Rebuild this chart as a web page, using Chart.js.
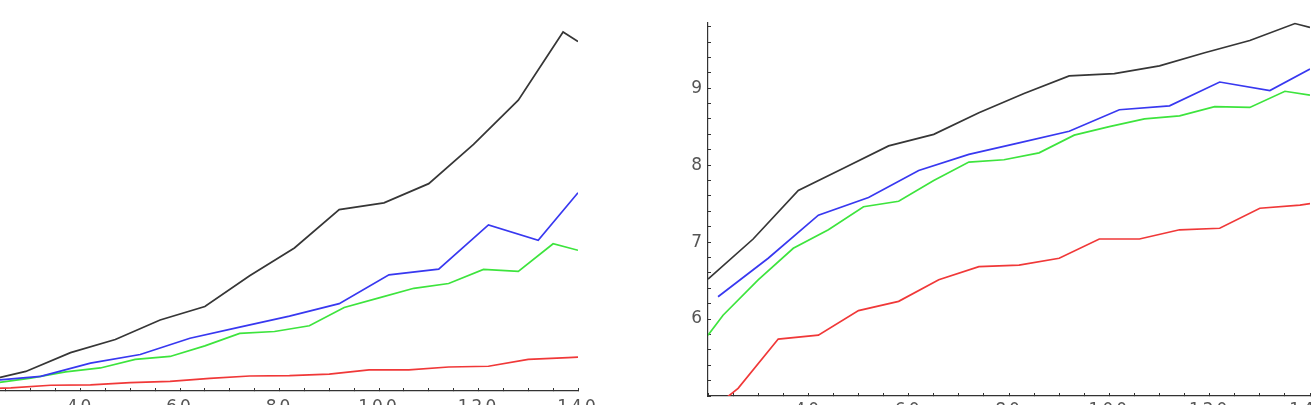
<!DOCTYPE html>
<html>
<head>
<meta charset="utf-8">
<title>Two line panels</title>
<script src="https://cdn.jsdelivr.net/npm/chart.js@4.4.1/dist/chart.umd.min.js"></script>
<style>
    html, body { margin: 0; padding: 0; background: #fff; overflow: hidden; }
    body { width: 1311px; height: 405px; position: relative; }
    .panel { position: absolute; }
</style>
</head>
<body>
<div class="panel" style="left:-19px; top:17px; width:637px; height:404px;"><canvas id="leftChart"></canvas></div>
<div class="panel" style="left:658px; top:22px; width:682px; height:404px;"><canvas id="rightChart"></canvas></div>

<script>
// Each curve was sampled on its own x grid
const blackX = [20, 29, 38, 47, 56, 65, 74, 83, 92, 101, 110, 119, 128, 137, 140];
const blueX  = [22, 32, 42, 52, 62, 72, 82, 92, 102, 112, 122, 132, 140];
const greenX = [20, 23, 30, 37, 44, 51, 58, 65, 72, 79, 86, 93, 100, 107, 114, 121, 128, 135, 140];
const redX   = [18, 26, 34, 42, 50, 58, 66, 74, 82, 90, 98, 106, 114, 122, 130, 138, 140];

// Left panel values (y axis is off screen)
const blackLeft = [470, 1020, 2000, 2680, 3700, 4400, 6000, 7450, 9450, 9800, 10800, 12850, 15150, 18700, 18200];
const blueLeft  = [540, 760, 1450, 1900, 2750, 3330, 3900, 4550, 6050, 6350, 8650, 7850, 10330];
const greenLeft = [330, 420, 670, 1000, 1200, 1650, 1800, 2350, 3000, 3100, 3400, 4350, 4850, 5350, 5600, 6330, 6230, 7670, 7330];
const redLeft   = [100, 160, 300, 320, 440, 500, 660, 780, 800, 880, 1100, 1100, 1250, 1290, 1650, 1740, 1760];

// Right panel values
const blackRight = [6.52, 7.04, 7.67, 7.96, 8.25, 8.40, 8.68, 8.93, 9.16, 9.19, 9.29, 9.46, 9.62, 9.84, 9.79];
const blueRight  = [6.29, 6.79, 7.35, 7.58, 7.93, 8.14, 8.29, 8.44, 8.72, 8.77, 9.08, 8.97, 9.25];
const greenRight = [5.79, 6.05, 6.51, 6.92, 7.16, 7.46, 7.53, 7.80, 8.04, 8.07, 8.16, 8.39, 8.50, 8.60, 8.64, 8.76, 8.75, 8.96, 8.91];
const redRight   = [4.68, 5.10, 5.74, 5.79, 6.11, 6.23, 6.51, 6.68, 6.70, 6.79, 7.04, 7.04, 7.16, 7.18, 7.44, 7.48, 7.50];

// Axis ticks
const xMin = 20, xMax = 140, xStep = 5, xLabelStep = 20;
const rightYMin = 5, rightYMax = 9.86, rightYStep = 0.2;
const leftYMin = 0, leftYMax = 19480;

const colors = { black: '#363636', blue: '#3838f0', green: '#3de43d', red: '#f03838' };
const axisColor = '#333';
const labelFont = { family: 'DejaVu Sans', size: 17 };
const labelColor = '#555';

// the tick labels in the original are drawn with loose tracking
const trackingPlugin = {
    id: 'tracking',
    beforeDraw(chart) {
        chart.ctx.letterSpacing = '3px';
    }
};

function points(xs, ys) {
    return xs.map((x, i) => ({ x: x, y: ys[i] }));
}

function series(xs, ys, color) {
    return {
        data: points(xs, ys),
        borderColor: color,
        borderWidth: 1.7,
        pointRadius: 0,
        tension: 0,
        fill: false
    };
}

function xScale(pad) {
    return {
        type: 'linear',
        min: xMin,
        max: xMax,
        border: { color: axisColor, width: 1.2 },
        grid: { drawOnChartArea: false, drawTicks: true, tickLength: -3, tickColor: axisColor },
        ticks: {
            stepSize: xStep,
            autoSkip: false,
            maxRotation: 0,
            padding: pad,
            color: labelColor,
            font: labelFont,
            callback: v => (v % xLabelStep === 0 && v > xMin) ? String(v) : ''
        },
        afterFit: s => { s.height = 30; s.paddingLeft = 0; s.paddingRight = 0; }
    };
}

function baseOptions(xPad, yScale, padRight) {
    return {
        responsive: true,
        maintainAspectRatio: false,
        animation: false,
        events: [],
        devicePixelRatio: 1,
        layout: { padding: { left: 0, right: padRight, top: 0, bottom: 0 } },
        plugins: { legend: { display: false }, tooltip: { enabled: false } },
        scales: { x: xScale(xPad), y: yScale }
    };
}

// Left panel
new Chart(document.getElementById('leftChart'), {
    type: 'line',
    data: {
        datasets: [
            series(blackX, blackLeft, colors.black),
            series(blueX, blueLeft, colors.blue),
            series(greenX, greenLeft, colors.green),
            series(redX, redLeft, colors.red)
        ]
    },
    options: baseOptions(9, { type: 'linear', display: false, min: leftYMin, max: leftYMax }, 40),
    plugins: [trackingPlugin]
});

// Right panel
new Chart(document.getElementById('rightChart'), {
    type: 'line',
    data: {
        datasets: [
            series(blackX, blackRight, colors.black),
            series(blueX, blueRight, colors.blue),
            series(greenX, greenRight, colors.green),
            series(redX, redRight, colors.red)
        ]
    },
    options: baseOptions(7, {
        type: 'linear',
        min: rightYMin,
        max: rightYMax,
        border: { color: axisColor, width: 1.2 },
        grid: { drawOnChartArea: false, drawTicks: true, tickLength: -3, tickColor: axisColor },
        ticks: {
            stepSize: rightYStep,
            includeBounds: false,
            autoSkip: false,
            padding: 6,
            color: labelColor,
            font: labelFont,
            callback: v => (Math.abs(v - Math.round(v)) < 1e-6 && v > rightYMin) ? String(Math.round(v)) : ''
        },
        afterFit: s => { s.width = 50; s.paddingTop = 0; s.paddingBottom = 0; }
    }, 30),
    plugins: [trackingPlugin]
});
</script>
</body>
</html>
